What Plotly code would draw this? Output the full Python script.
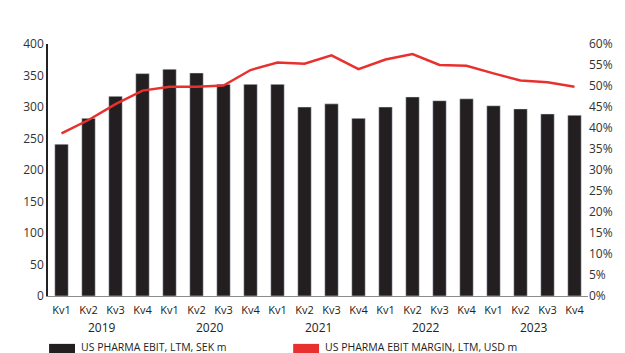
import plotly.graph_objects as go

quarters = ["Kv1", "Kv2", "Kv3", "Kv4"] * 5
years = ["2019", "2020", "2021", "2022", "2023"]
categories = [f"{q} {y}" for y in years for q in ["Kv1", "Kv2", "Kv3", "Kv4"]]
ebit = [241, 282, 317, 353, 360, 354, 336, 336, 336, 300,
        305, 282, 300, 316, 310, 313, 302, 297, 289, 287]
margin = [38.7, 41.9, 45.7, 48.9, 49.8, 49.8, 50.1, 53.8, 55.6, 55.3,
          57.3, 54.0, 56.3, 57.6, 55.0, 54.8, 53.0, 51.3, 50.9, 49.8]
legend_names = ["US PHARMA EBIT, LTM, SEK m", "US PHARMA EBIT MARGIN, LTM, USD m"]

BAR = "#231f20"
RED = "#e8312f"
FONT = "Open Sans"

fig = go.Figure()
fig.add_trace(go.Bar(x=categories, y=ebit, marker_color=BAR, name=legend_names[0]))
fig.add_trace(go.Scatter(x=categories, y=[m / 100 for m in margin], yaxis="y2",
                         mode="lines", line=dict(color=RED, width=2.5), name=legend_names[1]))

fig.update_layout(
    width=625, height=353,
    margin=dict(l=48, r=35, t=44, b=57),
    plot_bgcolor="white", paper_bgcolor="white",
    showlegend=False,
    bargap=0.5,
    font=dict(family=FONT, size=12, color="#333333"),
    xaxis=dict(type="category", tickvals=categories, ticktext=quarters, tickangle=0,
               ticklabelstandoff=4,
               showline=True, linecolor="#8c8c8c", linewidth=1, ticks="",
               tickfont=dict(size=11, color="#222"), showgrid=False),
    yaxis=dict(range=[0, 400], dtick=50, showline=True, linecolor="#222", linewidth=1.5,
               showgrid=False, zeroline=False, ticks="", tickfont=dict(size=12, color="#333")),
    yaxis2=dict(range=[0, 0.6], dtick=0.05, tickformat=".0%", overlaying="y", side="right",
                showgrid=False, zeroline=False, showline=False, ticks="",
                tickfont=dict(size=12, color="#333")),
)

for i, y in enumerate(years):
    fig.add_annotation(x=i * 4 + 1.5, y=0, xref="x", yref="paper", yshift=-31,
                       yanchor="middle", text=y, showarrow=False,
                       font=dict(size=12, color="#222"))

legend_x = [0.0, 0.452]
for name, col, lx in zip(legend_names, [BAR, RED], legend_x):
    fig.add_shape(type="rect", xref="paper", yref="paper",
                  x0=lx + 0.002, x1=lx + 0.05, y0=-0.23, y1=-0.19,
                  fillcolor=col, line=dict(width=0))
    fig.add_annotation(x=lx + 0.058, y=-0.203, xref="paper", yref="paper",
                       text=name, showarrow=False, xanchor="left", yanchor="middle",
                       font=dict(size=10.5, color="#222"))

fig.write_html("out.html")
